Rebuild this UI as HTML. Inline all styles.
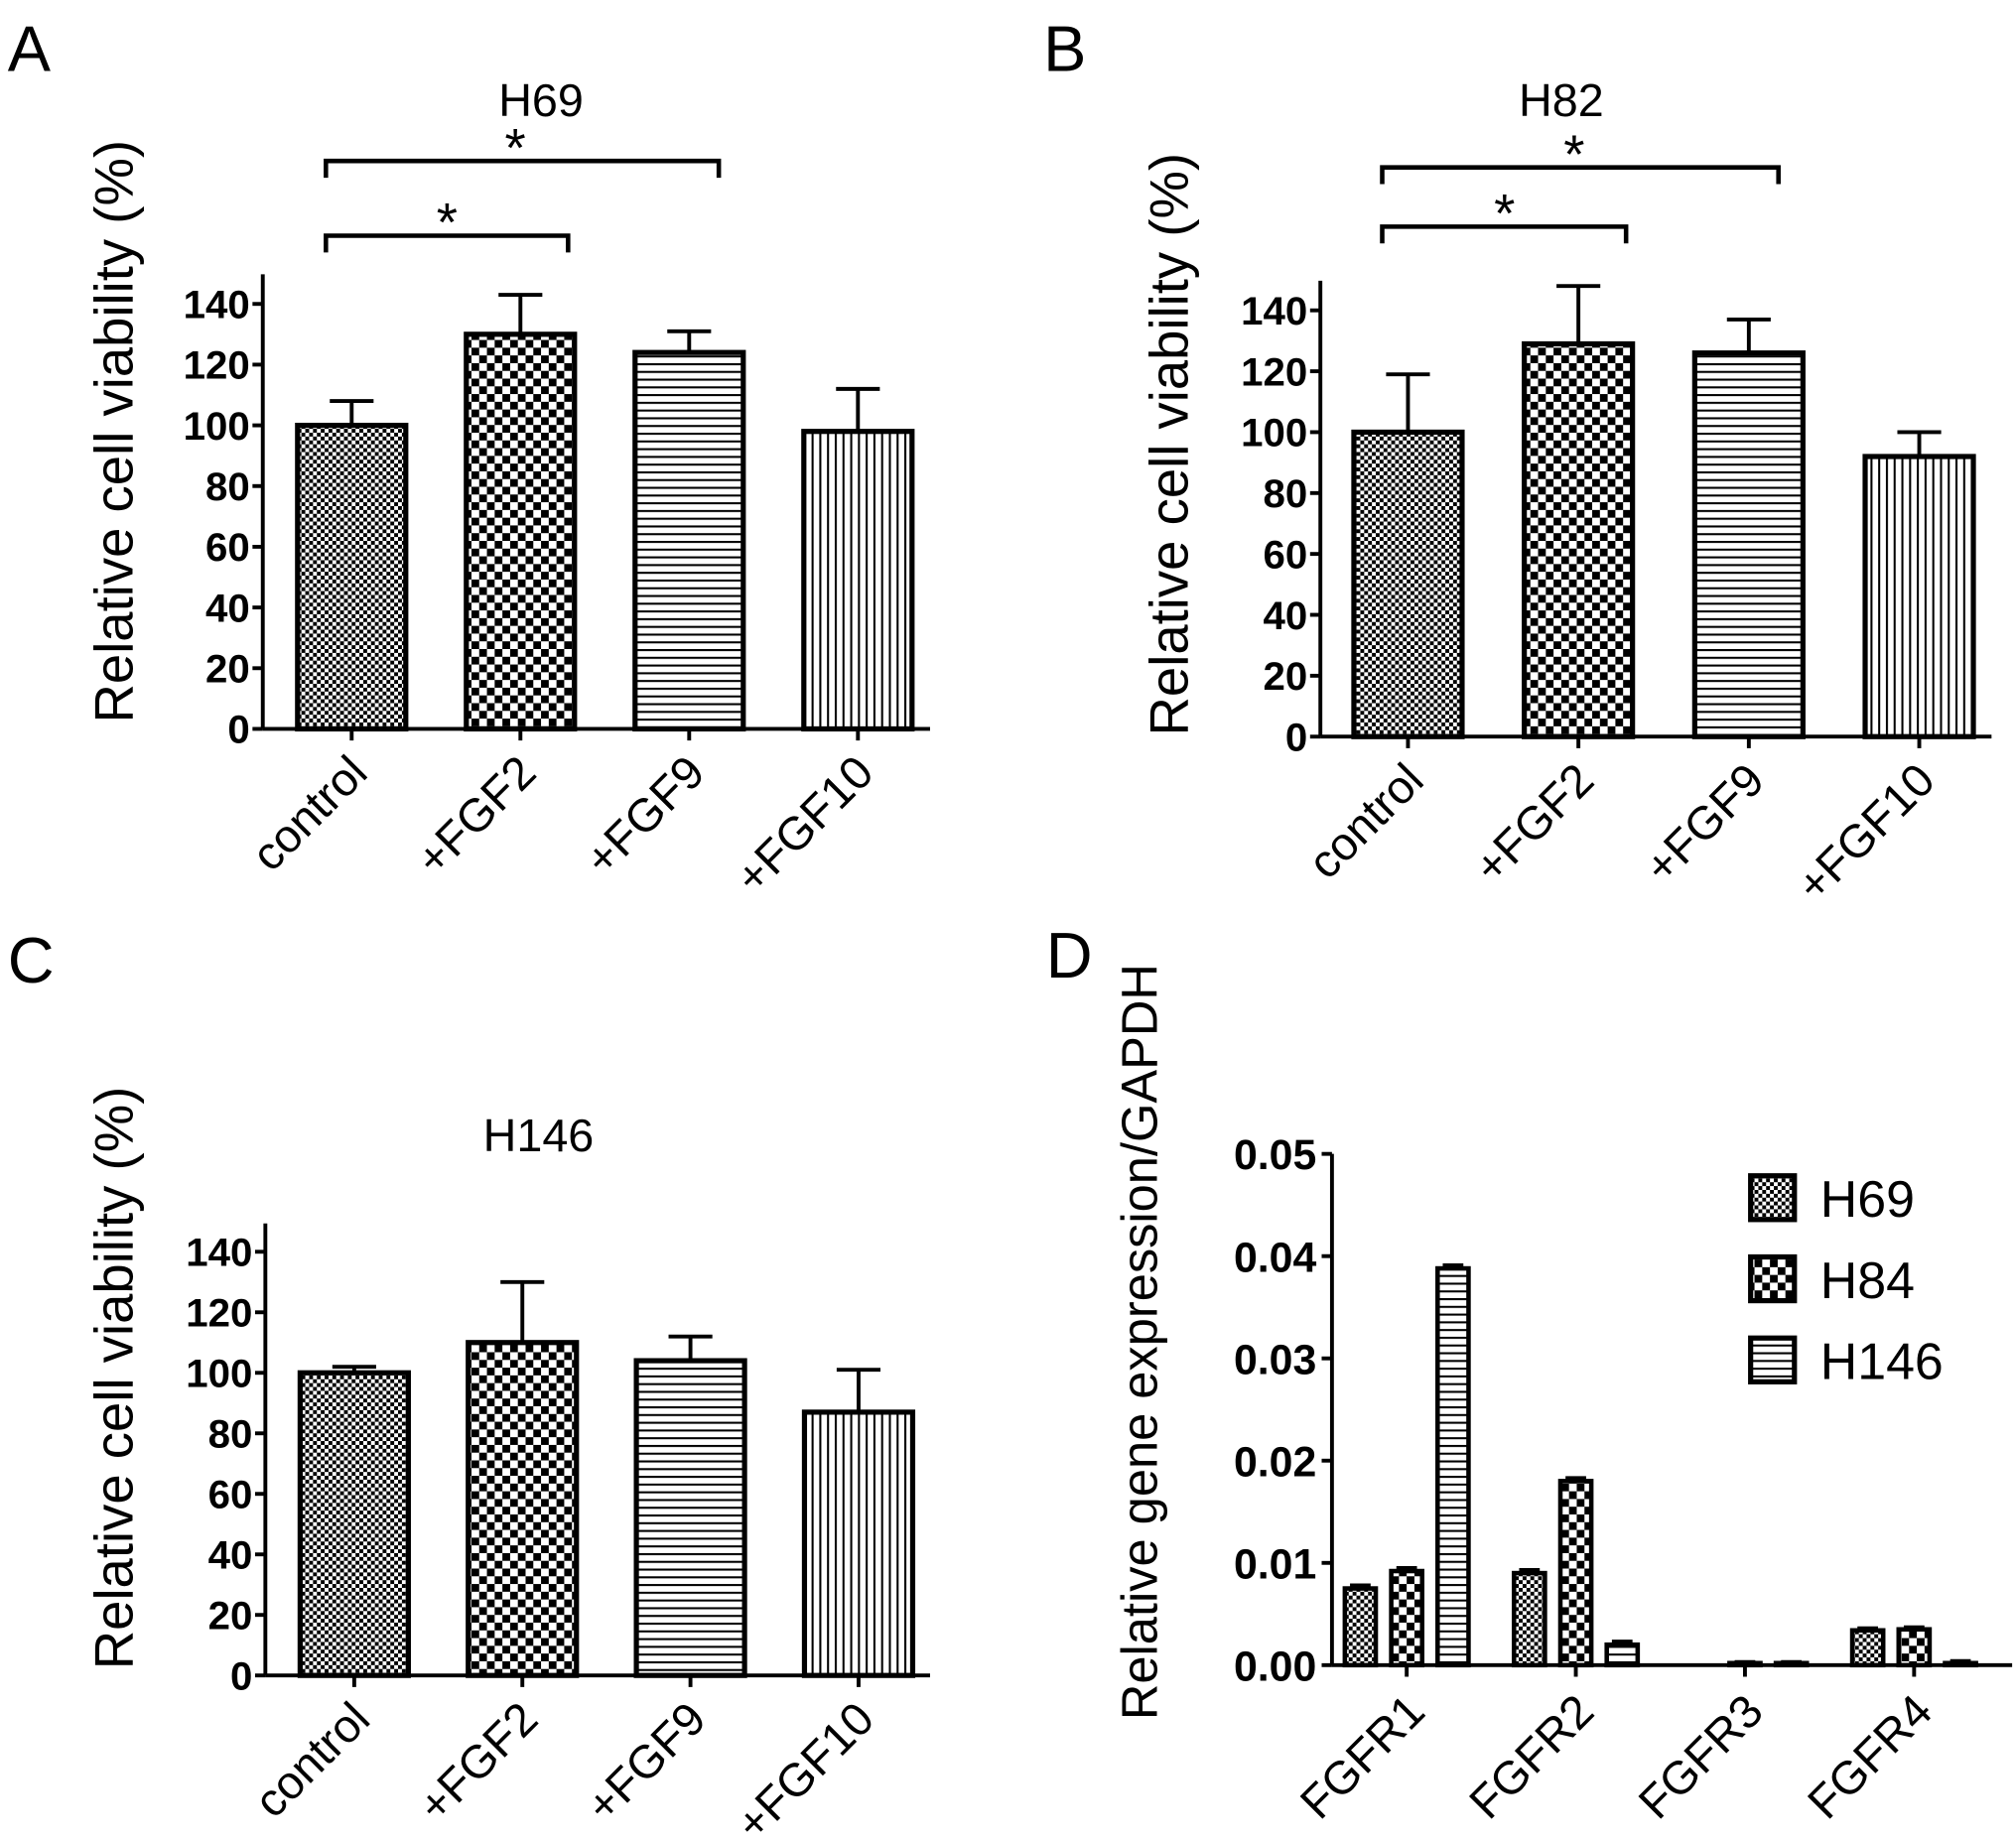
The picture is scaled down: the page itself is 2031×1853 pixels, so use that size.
<!DOCTYPE html>
<html><head><meta charset="utf-8"><style>
html,body{margin:0;padding:0;background:#fff;}
svg{display:block;font-family:"Liberation Sans",Arial,sans-serif;}
</style></head><body>
<svg id="fig" width="2031" height="1853" viewBox="0 0 1565 1428" preserveAspectRatio="none" xmlns="http://www.w3.org/2000/svg">
<defs>
<pattern id="pFine" width="6" height="6" patternUnits="userSpaceOnUse"><rect width="6" height="6" fill="#fff"/><rect width="3" height="3" fill="#000"/><rect x="3" y="3" width="3" height="3" fill="#000"/></pattern>
<pattern id="pCheck" width="12" height="12" patternUnits="userSpaceOnUse"><rect width="12" height="12" fill="#fff"/><rect width="6" height="6" fill="#000"/><rect x="6" y="6" width="6" height="6" fill="#000"/></pattern>
<pattern id="pH" width="6" height="6" patternUnits="userSpaceOnUse"><rect width="6" height="6" fill="#fff"/><rect width="6" height="1.6" fill="#000"/></pattern>
<pattern id="pV" width="6" height="6" patternUnits="userSpaceOnUse"><rect width="6" height="6" fill="#fff"/><rect width="1.6" height="6" fill="#000"/></pattern>
</defs>
<text x="6" y="55" font-size="50">A</text>
<text x="810" y="55" font-size="50">B</text>
<text x="6" y="763" font-size="50">C</text>
<text x="812" y="759" font-size="50">D</text>
</svg>
<script>
const categories = ["control", "+FGF2", "+FGF9", "+FGF10"];
const h69Values = [100, 130, 124, 98];
const h69Errors = [8, 13, 7, 14];
const h82Values = [100, 129, 126, 92];
const h82Errors = [19, 19, 11, 8];
const h146Values = [100, 110, 104, 87];
const h146Errors = [2, 20, 8, 14];
const viabilityTicks = [0, 20, 40, 60, 80, 100, 120, 140];
const genes = ["FGFR1", "FGFR2", "FGFR3", "FGFR4"];
const lines = ["H69", "H84", "H146"];
const exprH69 = [0.0075, 0.009, 0, 0.0034];
const exprH84 = [0.0092, 0.018, 0.0002, 0.0035];
const exprH146 = [0.0388, 0.002, 0.0002, 0.0002];
const exprErr = [0.0003, 0.0003, 0.0001, 0.0002];
const exprTicks = ["0.00", "0.01", "0.02", "0.03", "0.04", "0.05"];

const NS = "http://www.w3.org/2000/svg";
const svg = document.getElementById("fig");
function mk(tag, attrs, parent, txt) {
  const e = document.createElementNS(NS, tag);
  for (const k in attrs) e.setAttribute(k, attrs[k]);
  if (txt !== undefined) e.textContent = txt;
  (parent || svg).appendChild(e);
  return e;
}
const fills = ["url(#pFine)", "url(#pCheck)", "url(#pH)", "url(#pV)"];

function viabilityPanel(cfg, vals, errs) {
  const g = mk("g", {});
  
  
  const y = v => cfg.y0 - (v - 0) * (cfg.y0 - cfg.y140) / 140;
  const x = i => cfg.xc0 + i * cfg.step;
  const t = mk("text", {x: cfg.titleX, y: cfg.titleY, "font-size": 36, "text-anchor": "middle"}, g, cfg.title);
  
  
  const yt = mk("text", {x: 0, y: 0, "font-size": 42, "text-anchor": "middle", transform: `translate(${cfg.ytx},${cfg.yty}) rotate(-90)`}, g, "Relative cell viability (%)");
  
  
  mk("line", {x1: cfg.ax, y1: cfg.top, x2: cfg.ax, y2: cfg.y0, stroke: "#000", "stroke-width": 3}, g);
  mk("line", {x1: cfg.ax, y1: cfg.y0, x2: cfg.right, y2: cfg.y0, stroke: "#000", "stroke-width": 3}, g);
  viabilityTicks.forEach(v => {
    mk("line", {x1: cfg.ax - 8, y1: y(v), x2: cfg.ax, y2: y(v), stroke: "#000", "stroke-width": 3}, g);
    const tl = mk("text", {x: cfg.ax - 10, y: y(v) + 11, "font-size": 31, "font-weight": "bold", "text-anchor": "end"}, g, String(v));
    
    
  });
  const bw = 84;
  vals.forEach((v, i) => {
    const cx = x(i);
    const eb = mk("path", {d: `M${cx},${y(v)} V${y(v + errs[i])} M${cx - 17},${y(v + errs[i])} H${cx + 17}`, stroke: "#000", "stroke-width": 3, fill: "none"}, g);
    
    
    const r = mk("rect", {x: cx - bw / 2, y: y(v), width: bw, height: y(0) - y(v), fill: fills[i], stroke: "#000", "stroke-width": 4}, g);
    
    
    mk("line", {x1: cx, y1: cfg.y0, x2: cx, y2: cfg.y0 + 9, stroke: "#000", "stroke-width": 3}, g);
    const lx = cx + 14, ly = cfg.y0 + 36;
    const cl = mk("text", {x: lx, y: ly, "font-size": 36, "text-anchor": "end", transform: `rotate(-45 ${lx} ${ly})`}, g, categories[i]);
    
    
  });
  (cfg.brackets || []).forEach(b => {
    const bp = mk("path", {d: `M${x(b.a)-20},${b.y + 13} V${b.y} H${x(b.b)+ (b.b==1?37:23)} V${b.y + 13}`, stroke: "#000", "stroke-width": 3.5, fill: "none"}, g);
    
    
    const st = mk("text", {x: b.sx, y: b.y + 4, "font-size": 42, "text-anchor": "middle"}, g, "*");
    
    
  });
}

viabilityPanel({name: "panel-a-h69", title: "H69", titleX: 420, titleY: 90, ytx: 103, yty: 335,
  ax: 204, top: 213, y0: 566, y140: 236, right: 722, xc0: 273, step: 131,
  brackets: [{a: 0, b: 2, y: 125, sx: 400}, {a: 0, b: 1, y: 183, sx: 347}]}, h69Values, h69Errors);
viabilityPanel({name: "panel-b-h82", title: "H82", titleX: 1212, titleY: 90, ytx: 922, yty: 345,
  ax: 1025, top: 218, y0: 572, y140: 241, right: 1546, xc0: 1093, step: 132.3,
  brackets: [{a: 0, b: 2, y: 130, sx: 1222}, {a: 0, b: 1, y: 176, sx: 1168}]}, h82Values, h82Errors);
viabilityPanel({name: "panel-c-h146", title: "H146", titleX: 418, titleY: 894, ytx: 103, yty: 1070,
  ax: 206, top: 950, y0: 1301, y140: 972, right: 722, xc0: 275, step: 130.5}, h146Values, h146Errors);

// Panel D
(function () {
  const g = mk("g", {});
  
  
  const y0 = 1293, yTop = 896, ax = 1034;
  const y = v => y0 - v / 0.05 * (y0 - yTop);
  const gx = i => 1092 + i * 131.3;
  const yt = mk("text", {x: 0, y: 0, "font-size": 39, "text-anchor": "middle", transform: `translate(898,1042) rotate(-90)`}, g, "Relative gene expression/GAPDH");
  
  
  mk("line", {x1: ax, y1: yTop, x2: ax, y2: y0, stroke: "#000", "stroke-width": 3}, g);
  mk("line", {x1: ax, y1: y0, x2: 1562, y2: y0, stroke: "#000", "stroke-width": 3}, g);
  exprTicks.forEach(s => {
    const v = parseFloat(s);
    mk("line", {x1: ax - 8, y1: y(v), x2: ax, y2: y(v), stroke: "#000", "stroke-width": 3}, g);
    const tl = mk("text", {x: ax - 12, y: y(v) + 12, "font-size": 33, "font-weight": "bold", "text-anchor": "end"}, g, s);
    
    
  });
  const series = [exprH69, exprH84, exprH146];
  const sf = ["url(#pFine)", "url(#pCheck)", "url(#pH)"];
  genes.forEach((gn, i) => {
    const c = gx(i);
    series.forEach((arr, s) => {
      const v = arr[i];
      if (v <= 0) return;
      const cx = c + (s - 1) * 36;
      const e = exprErr[i];
      mk("path", {d: `M${cx - 8},${y(v + e)} H${cx + 8}`, stroke: "#000", "stroke-width": 3}, g);
      const r = mk("rect", {x: cx - 12, y: y(v), width: 24, height: y0 - y(v), fill: sf[s], stroke: "#000", "stroke-width": 3.5}, g);
      
      
    });
    mk("line", {x1: c, y1: y0, x2: c, y2: y0 + 9, stroke: "#000", "stroke-width": 3}, g);
    const lx = c + 16, ly = y0 + 38;
    const cl = mk("text", {x: lx, y: ly, "font-size": 36, "text-anchor": "end", transform: `rotate(-45 ${lx} ${ly})`}, g, gn);
    
    
  });
  lines.forEach((ln, s) => {
    const ly = 930 + s * 63;
    const b = mk("rect", {x: 1359, y: ly - 17, width: 34, height: 34, fill: sf[s], stroke: "#000", "stroke-width": 4}, g);
    
    
    const t = mk("text", {x: 1413, y: ly + 15, "font-size": 40}, g, ln);
    
    
  });
})();
</script>
</body></html>
